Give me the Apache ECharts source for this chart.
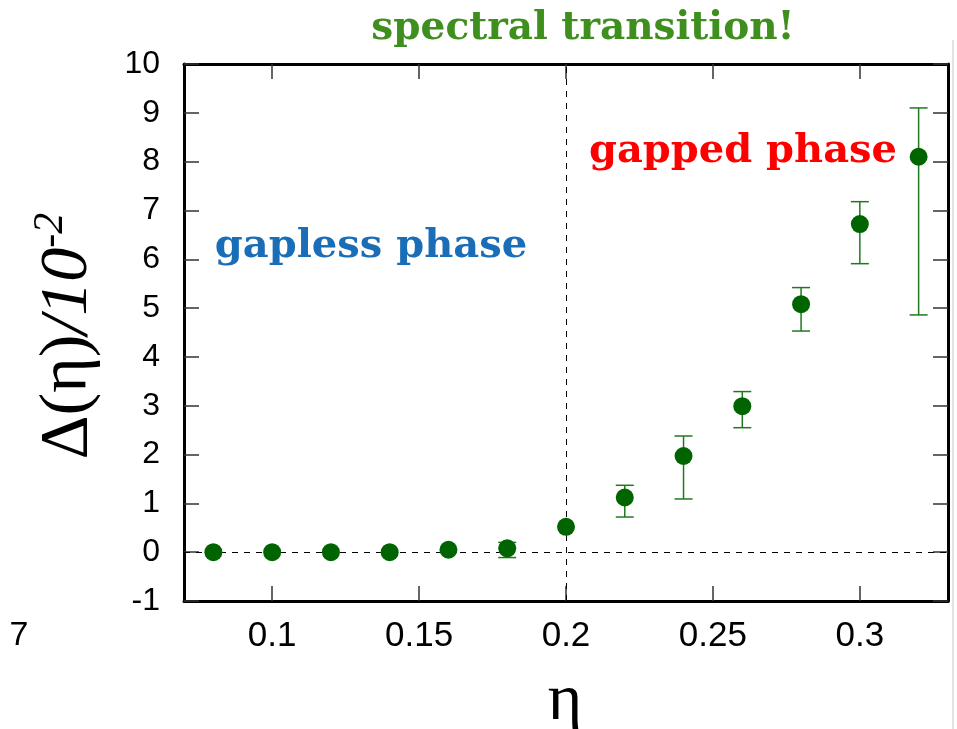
<!DOCTYPE html>
<html>
<head>
<meta charset="utf-8">
<script src="https://cdn.jsdelivr.net/npm/echarts@6/dist/echarts.min.js"></script>
<style>html,body{margin:0;padding:0;background:#fff}#c{width:957px;height:729px}</style>
</head>
<body>
<div id="c"></div>
<script>
const etaValues = [0.08, 0.10, 0.12, 0.14, 0.16, 0.18, 0.20, 0.22, 0.24, 0.26, 0.28, 0.30, 0.32];
const gapValues = [0.0, 0.0, 0.0, 0.0, 0.05, 0.08, 0.52, 1.12, 1.97, 2.99, 5.08, 6.72, 8.10];
const errLow    = [0.0, 0.0, 0.0, 0.0, 0.05, -0.11, 0.52, 0.72, 1.09, 2.55, 4.53, 5.91, 4.86];
const errHigh   = [0.0, 0.0, 0.0, 0.0, 0.05, 0.20, 0.52, 1.37, 2.38, 3.29, 5.42, 7.18, 9.10];
const xTicks = [0.1, 0.15, 0.2, 0.25, 0.3];
const xTickLabels = ['0.1', '0.15', '0.2', '0.25', '0.3'];

const chart = echarts.init(document.getElementById('c'), null, {renderer: 'canvas'});
const frameLine = {show: true, onZero: false, lineStyle: {color: '#000', width: 3}};
const tickStyle = {show: true, inside: true, length: 15, lineStyle: {color: '#333', width: 1.5}};
const sans = 'Liberation Sans, Arial, Helvetica, sans-serif';
const serif = 'Liberation Serif, Times New Roman, serif';
const bserif = 'DejaVu Serif, serif';

const scatterData = etaValues.map((x, i) => [x, gapValues[i]]);
const errData = etaValues.map((x, i) => [x, errLow[i], errHigh[i]]).filter(d => d[2] - d[1] > 0.01);

chart.setOption({
  animation: false,
  backgroundColor: '#fff',
  grid: {left: 184, right: 9, top: 64, bottom: 128, containLabel: false},
  xAxis: [{
    type: 'value', min: 0.07, max: 0.33, position: 'bottom',
    axisLine: frameLine,
    axisTick: Object.assign({customValues: xTicks}, tickStyle),
    axisLabel: {customValues: xTicks, formatter: v => xTickLabels[xTicks.findIndex(t => Math.abs(t - v) < 1e-9)] ?? String(v),
      fontFamily: sans, fontSize: 35, color: '#000', margin: 18},
    splitLine: {show: false}
  }, {
    type: 'value', min: 0.07, max: 0.33, position: 'top',
    axisLine: frameLine,
    axisTick: Object.assign({customValues: xTicks}, tickStyle),
    axisLabel: {show: false},
    splitLine: {show: false}
  }],
  yAxis: [{
    type: 'value', min: -1, max: 10, interval: 1, position: 'left',
    axisLine: frameLine,
    axisTick: tickStyle,
    axisLabel: {fontFamily: sans, fontSize: 32, color: '#000', margin: 24},
    splitLine: {show: false}
  }, {
    type: 'value', min: -1, max: 10, interval: 1, position: 'right',
    axisLine: frameLine,
    axisTick: tickStyle,
    axisLabel: {show: false},
    splitLine: {show: false}
  }],
  series: [{
    type: 'custom',
    xAxisIndex: 0, yAxisIndex: 0,
    data: errData,
    z: 2,
    renderItem: function (params, api) {
      const x = api.value(0);
      const lo = api.coord([x, api.value(1)]);
      const hi = api.coord([x, api.value(2)]);
      const hw = 9;
      const st = {stroke: '#1f7a1f', lineWidth: 1.5};
      return {type: 'group', children: [
        {type: 'line', shape: {x1: lo[0], y1: lo[1], x2: hi[0], y2: hi[1]}, style: st},
        {type: 'line', shape: {x1: lo[0] - hw, y1: lo[1], x2: lo[0] + hw, y2: lo[1]}, style: st},
        {type: 'line', shape: {x1: hi[0] - hw, y1: hi[1], x2: hi[0] + hw, y2: hi[1]}, style: st}
      ]};
    }
  }, {
    type: 'scatter',
    xAxisIndex: 0, yAxisIndex: 0,
    data: scatterData,
    symbol: 'circle', symbolSize: 18,
    itemStyle: {color: '#006400', opacity: 1},
    z: 3,
    markLine: {
      silent: true, symbol: ['none', 'none'], label: {show: false},
      lineStyle: {color: '#000', type: [6, 6], width: 1},
      data: [{yAxis: 0}, {xAxis: 0.2}],
      z: 1
    }
  }],
  graphic: [
    {type: 'text', x: 583, y: 29, style: {text: 'spectral transition!', fill: '#3f8f1f',
      font: 'bold 39px ' + bserif, align: 'center', verticalAlign: 'middle'}},
    {type: 'text', x: 743, y: 152, style: {text: 'gapped phase', fill: '#ff0000',
      font: 'bold 40px ' + bserif, align: 'center', verticalAlign: 'middle'}},
    {type: 'text', x: 371, y: 247, style: {text: 'gapless phase', fill: '#1a6eb8',
      font: 'bold 40px ' + bserif, align: 'center', verticalAlign: 'middle'}},
    {type: 'text', x: 565, y: 702, style: {text: 'η', fill: '#000',
      font: '66px ' + serif, align: 'center', verticalAlign: 'middle'}},
    {type: 'text', x: 19, y: 636, style: {text: '7', fill: '#000',
      font: '34px ' + sans, align: 'center', verticalAlign: 'middle'}},
    {type: 'line', shape: {x1: 953, y1: 40, x2: 953, y2: 729}, style: {stroke: '#e2e2e2', lineWidth: 2}},
    {type: 'text', x: 68, y: 336, rotation: Math.PI / 2,
      style: {
        text: '{a|Δ(η)}{b|/10}{c|-2}',
        align: 'center', verticalAlign: 'middle',
        rich: {
          a: {fontFamily: serif, fontSize: 68, fill: '#000', color: '#000'},
          b: {fontFamily: serif, fontSize: 68, fontStyle: 'italic', fill: '#000', color: '#000'},
          c: {fontFamily: serif, fontSize: 42, fontStyle: 'italic', fill: '#000', color: '#000', padding: [0, 0, 34, 0]}
        }
      }}
  ]
});
</script>
</body>
</html>
